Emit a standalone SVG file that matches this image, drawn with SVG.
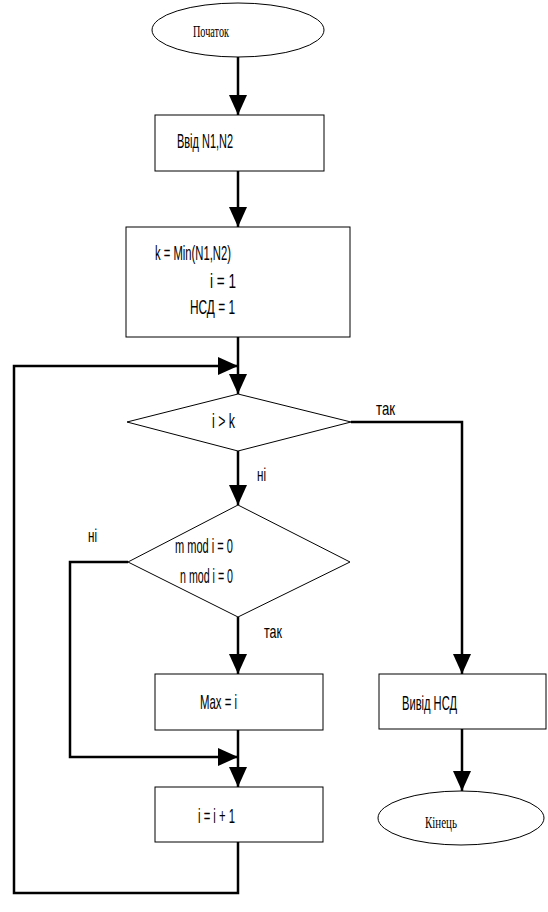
<svg xmlns="http://www.w3.org/2000/svg" width="548" height="912" viewBox="0 0 548 912">
<style>
.shape{fill:#fff;stroke:#000;stroke-width:1}
.conn{fill:none;stroke:#000;stroke-width:2.5}
.t{font-family:"Liberation Sans",Arial,sans-serif;font-size:21px;fill:#000}
.lbl{font-family:"Liberation Sans",Arial,sans-serif;font-size:19px;fill:#000}
.s{font-family:"Liberation Serif","Times New Roman",serif;font-size:17px;fill:#000}
</style>
<defs>
<marker id="arr" viewBox="0 0 20 18" refX="20" refY="9" markerWidth="20" markerHeight="18" markerUnits="userSpaceOnUse" orient="auto">
<path d="M0,0 L20,9 L0,18 z" fill="#000"/>
</marker>
</defs>
<rect width="548" height="912" fill="#fff"/>
<g id="connectors">
<line class="conn" x1="238" y1="57" x2="238" y2="115" marker-end="url(#arr)"/>
<line class="conn" x1="238" y1="171" x2="238" y2="227" marker-end="url(#arr)"/>
<line class="conn" x1="238" y1="337" x2="238" y2="394" marker-end="url(#arr)"/>
<line class="conn" x1="238" y1="451" x2="238" y2="505" marker-end="url(#arr)"/>
<line class="conn" x1="238" y1="617" x2="238" y2="674" marker-end="url(#arr)"/>
<line class="conn" x1="238" y1="730" x2="238" y2="787" marker-end="url(#arr)"/>
<polyline class="conn" points="351,422 462,422 462,674" marker-end="url(#arr)"/>
<line class="conn" x1="462" y1="729" x2="462" y2="791" marker-end="url(#arr)"/>
<polyline class="conn" points="128,562 70,562 70,757 238,757" marker-end="url(#arr)"/>
<polyline class="conn" points="238,842 238,893 14,893 14,366 238,366" marker-end="url(#arr)"/>
<text class="lbl" x="376" y="415" textLength="19" lengthAdjust="spacingAndGlyphs">так</text>
<text class="lbl" x="257" y="481" textLength="9" lengthAdjust="spacingAndGlyphs">ні</text>
<text class="lbl" x="88" y="542" textLength="9" lengthAdjust="spacingAndGlyphs">ні</text>
<text class="lbl" x="264" y="638" textLength="18" lengthAdjust="spacingAndGlyphs">так</text>
</g>
<g id="start">
<ellipse class="shape" cx="238" cy="30" rx="86" ry="27"/>
<text class="s" x="193" y="37" textLength="36" lengthAdjust="spacingAndGlyphs">Початок</text>
</g>
<g id="input">
<rect class="shape" x="155" y="115" width="169" height="56"/>
<text class="t" x="177" y="148" textLength="56" lengthAdjust="spacingAndGlyphs">Ввід N1,N2</text>
</g>
<g id="init">
<rect class="shape" x="126" y="227" width="224" height="110"/>
<text class="t" x="155" y="260" textLength="76" lengthAdjust="spacingAndGlyphs">k = Min(N1,N2)</text>
<text class="t" x="210" y="288" textLength="26" lengthAdjust="spacingAndGlyphs">i = 1</text>
<text class="t" x="190" y="314" textLength="45" lengthAdjust="spacingAndGlyphs">НСД = 1</text>
</g>
<g id="cond1">
<polygon class="shape" points="238,394 351,422 238,451 127,422"/>
<text class="t" x="212" y="428" textLength="23" lengthAdjust="spacingAndGlyphs">i &gt; k</text>
</g>
<g id="cond2">
<polygon class="shape" points="238,505 350,562 238,617 128,562"/>
<text class="t" x="175" y="553" textLength="58" lengthAdjust="spacingAndGlyphs">m mod i = 0</text>
<text class="t" x="180" y="583" textLength="53" lengthAdjust="spacingAndGlyphs">n mod i = 0</text>
</g>
<g id="max">
<rect class="shape" x="155" y="674" width="168" height="56"/>
<text class="t" x="200" y="709" textLength="37" lengthAdjust="spacingAndGlyphs">Max = i</text>
</g>
<g id="incr">
<rect class="shape" x="155" y="787" width="168" height="55"/>
<text class="t" x="198" y="823" textLength="37" lengthAdjust="spacingAndGlyphs">i = i + 1</text>
</g>
<g id="output">
<rect class="shape" x="379" y="674" width="167" height="55"/>
<text class="t" x="402" y="710" textLength="55" lengthAdjust="spacingAndGlyphs">Вивід НСД</text>
</g>
<g id="end">
<ellipse class="shape" cx="461" cy="818" rx="83" ry="27"/>
<text class="s" x="425" y="828" textLength="32" lengthAdjust="spacingAndGlyphs">Кінець</text>
</g>
</svg>
